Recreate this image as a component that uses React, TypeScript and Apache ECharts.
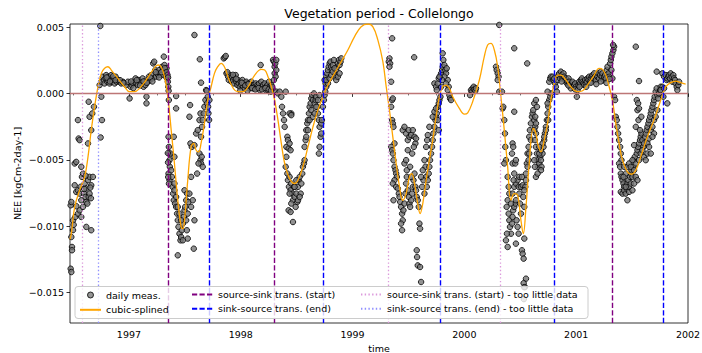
import React, { useEffect, useRef } from "react";
import * as echarts from "echarts";

const FONT = "DejaVu Sans";

const xRange = [1996.473, 2002.0];
const yRange = [-0.0173, 0.00523];
const yearTicks = [1997, 1998, 1999, 2000, 2001, 2002];
const quarterTicks = [1996.5, 1996.75, 1997.25, 1997.5, 1997.75, 1998.25, 1998.5, 1998.75, 1999.25, 1999.5, 1999.75, 2000.25, 2000.5, 2000.75, 2001.25, 2001.5, 2001.75];
const yTicks = [-0.015, -0.01, -0.005, 0, 0.005];

const sourceSinkStart = [1997.348, 1998.297, 2001.315];
const sinkSourceEnd = [1997.72, 1998.744, 1999.777, 2000.795, 2001.78];
const sourceSinkStartLittle = [1996.58, 1999.321, 2000.318];
const sinkSourceEndLittle = [1996.729];

const meas1996 = [
  [1996.485,-0.01082],[1996.491,-0.01157],[1996.491,-0.01182],[1996.479,-0.01321],[1996.485,-0.01346],[1996.479,-0.00843],[1996.485,-0.00818],[1996.5,-0.00956],[1996.52,-0.00931],[1996.515,-0.00692],[1996.529,-0.00742],[1996.544,-0.0073],[1996.559,-0.00755],[1996.515,-0.00528],[1996.529,-0.00516],[1996.544,-0.00906],[1996.559,-0.00881],[1996.574,-0.00805],[1996.574,-0.00931],[1996.589,-0.00855],[1996.598,-0.00755],[1996.61,-0.0078],[1996.619,-0.00818],[1996.628,-0.0083],[1996.64,-0.0078],[1996.648,-0.00755],[1996.574,-0.00553],[1996.58,-0.00629],[1996.589,-0.00604],[1996.604,-0.00679],[1996.568,-0.00704],[1996.619,-0.00717],[1996.634,-0.00654],[1996.648,-0.00629],[1996.663,-0.00692],[1996.678,-0.00629],[1996.619,-0.01006],[1996.663,-0.01031],[1996.544,-0.00201],[1996.55,-0.0034],[1996.559,-0.00352],[1996.634,-0.00377],[1996.64,-0.00063],[1996.648,-0.00176],[1996.663,-0.00277],[1996.672,-0.00151],[1996.687,-0.00101],[1996.753,-0.00025],[1996.759,-0.00201],[1996.747,-0.00332],[1996.744,0.00508],[1996.5,-0.0103],[1996.506,-0.0099],[1996.53,-0.0085],[1996.6,-0.0072],[1996.655,-0.0071],[1996.612,-0.0062],[1996.66,-0.0079],
  [1996.738,0.00063],[1996.753,0.00088],[1996.768,0.00126],[1996.776,0.00101],[1996.782,0.00075],[1996.791,0.00113],[1996.797,0.00138],[1996.806,0.00088],[1996.812,0.00101],[1996.818,0.00126],[1996.827,0.00075],[1996.836,0.00113],[1996.842,0.00138],[1996.851,0.00088],[1996.857,0.00101],[1996.866,0.00113],[1996.872,0.00075],[1996.881,0.00126],[1996.89,0.00088],[1996.901,0.00101],[1996.916,0.00088],[1996.931,0.00075],[1996.946,0.00088],[1996.961,0.00075],[1996.976,0.00063],[1996.991,0.00088],[1996.8,0.0012],[1996.83,0.0009],[1996.86,0.0013],[1996.88,0.001],[1996.92,0.001],[1996.95,0.0008]
];

const meas1997 = [
  [1997.006,-0.00038],[1997.015,0.0005],[1997.026,0.00063],[1997.035,0.00075],[1997.05,0.00088],[1997.059,0.00113],[1997.068,0.00075],[1997.08,0.00063],[1997.089,0.00101],[1997.098,0.00088],[1997.11,0.00075],[1997.122,0.00113],[1997.131,0.0005],[1997.14,0.00088],[1997.148,0.00063],[1997.157,-0.00025],[1997.157,-0.00075],[1997.169,0.00088],[1997.178,0.00126],[1997.187,0.00101],[1997.199,0.00138],[1997.208,0.00113],[1997.217,0.00226],[1997.226,0.00239],[1997.235,0.00176],[1997.244,0.00126],[1997.253,0.00151],[1997.262,0.00138],[1997.27,0.00176],[1997.279,0.00151],[1997.288,0.00138],[1997.297,0.00201],[1997.306,0.00176],[1997.312,0.00277],[1997.318,0.00214],[1997.324,0.00164],[1997.33,0.00126],[1997.336,0.00189],[1997.342,0.00113],[1997.348,0.00088],
  [1997.02,0.0009],[1997.04,0.0004],[1997.07,0.001],[1997.1,0.0006],[1997.13,0.0009],[1997.16,0.0008],[1997.19,0.0012],[1997.21,0.0009],[1997.24,0.0016],[1997.27,0.0012],[1997.29,0.0016],[1997.32,0.0019],[1997.335,0.0016],[1997.345,0.0014],[1997.35,0.0012],[1997.352,0.0005],[1997.355,0.0002],[1997.357,-0.0005]
];

const measDrop1997 = [
  [1997.354,-0.00327],[1997.357,-0.00403],[1997.36,-0.00453],[1997.363,-0.00503],[1997.366,-0.00553],[1997.354,-0.00604],[1997.363,-0.00654],[1997.372,-0.00453],[1997.378,-0.00579],[1997.384,-0.00629],[1997.39,-0.00704],[1997.395,-0.00755],[1997.401,-0.00805],[1997.407,-0.0073],[1997.413,-0.0083],[1997.422,-0.00855],[1997.431,-0.00906],[1997.437,-0.00956],[1997.443,-0.01006],[1997.452,-0.01057],[1997.461,-0.01107],[1997.467,-0.01082],[1997.473,-0.01031],[1997.482,-0.00981],[1997.491,-0.00931],[1997.497,-0.00881],[1997.503,-0.00855],[1997.512,-0.00956],[1997.518,-0.01031],[1997.526,-0.01094],[1997.482,-0.01107],[1997.467,-0.00956],[1997.452,-0.00906],[1997.437,-0.00855],[1997.422,-0.0078],[1997.407,-0.00679],[1997.437,-0.0122],[1997.497,-0.0073],[1997.512,-0.00805],[1997.526,-0.00906],[1997.532,-0.00818],[1997.52,-0.00755],[1997.541,-0.00755],[1997.556,-0.00855],[1997.571,-0.00805],[1997.586,-0.00956],[1997.556,-0.00629],[1997.58,-0.0117],
  [1997.422,-0.0002],[1997.422,-0.00113],[1997.401,-0.00327],[1997.407,-0.00478],[1997.547,-0.00088],[1997.541,-0.00176],[1997.55,-0.00377],[1997.562,-0.00403],[1997.586,-0.0039],[1997.601,-0.00302],[1997.616,-0.00277],[1997.631,-0.00201],[1997.64,-0.00151],[1997.645,-0.00327],[1997.654,-0.00252],[1997.66,-0.00201],[1997.669,-0.00151],[1997.675,-0.00101],[1997.684,-0.0005],[1997.69,0.00025],[1997.699,-0.00075],[1997.705,-0.00025],[1997.631,-0.00453],[1997.64,-0.00503],[1997.645,-0.00528],[1997.66,-0.00553],[1997.651,-0.00478],[1997.61,-0.00604],[1997.622,-0.00528],[1997.634,0.00257],[1997.645,0.00081],[1997.586,0.0044],[1997.696,0.0002],
  [1997.348,-0.0045],[1997.35,-0.0052],[1997.351,-0.0063],[1997.358,-0.0068],[1997.708,-0.001],[1997.711,-0.0015],[1997.717,-0.002],[1997.72,-0.0005]
];

const meas1998 = [
  [1997.848,0.00264],[1997.857,0.00272],[1997.866,0.00282],[1997.872,0.00151],[1997.887,0.00126],[1997.893,0.00101],[1997.902,0.00138],[1997.911,0.00113],[1997.917,0.00088],[1997.922,0.00126],[1997.931,0.00101],[1997.94,0.00075],[1997.946,0.00113],[1997.955,0.00138],[1997.961,0.00088],[1997.97,0.00063],[1997.976,0.00101],[1997.982,0.00075],[1997.991,0.0005],[1998.0,0.00088],[1998.006,0.00063],[1998.015,0.00101],[1998.021,0.0005],[1998.03,0.00075],[1998.036,0.00038],[1998.045,0.00063],[1998.05,0.00088],[1998.059,0.0005],[1998.065,0.00075],[1998.074,0.00038],[1998.08,0.00063],[1998.089,0.0005],[1998.095,0.00088],[1998.104,0.00063],[1998.11,0.00038],[1998.119,0.00063],[1998.125,0.0005],[1998.134,0.00075],[1998.14,0.00038],[1998.149,0.00063],[1998.155,0.0005],[1998.164,0.00075],[1998.17,0.00025],[1998.178,0.00214],[1998.184,0.00088],[1998.193,0.0005],[1998.199,0.00063],[1998.208,0.00038],[1998.214,0.00075],[1998.223,0.00025],[1998.229,0.0005],[1998.238,0.00063],[1998.244,0.00025],[1998.253,0.00088],[1998.259,0.0005],[1998.268,0.00013],[1998.274,0.00063],[1998.283,0.00038],[1998.289,0.00252],[1998.297,0.00239],[1998.303,0.00201],[1998.309,0.00226],[1998.318,0.00252],[1998.303,0.00151],[1998.312,0.00126],[1998.297,0.00101],[1998.318,0.00176],
  [1997.88,0.0016],[1997.93,0.0014],[1997.96,0.0011],[1998.01,0.0008],[1998.04,0.0006],[1998.07,0.0007],[1998.1,0.0004],[1998.13,0.0003],[1998.16,0.0004],[1998.19,0.0003],[1998.22,0.0004],[1998.25,0.0003],[1998.27,0.0002],[1998.28,0.0005],[1997.995,0.0002],[1998.06,0.0002]
];

const measDrop1998 = [
  [1998.318,0.00013],[1998.333,0.0],[1998.348,0.00013],[1998.363,-0.00025],[1998.369,-0.00101],[1998.378,-0.00151],[1998.387,-0.00201],[1998.393,-0.00252],[1998.402,0.00013],[1998.408,-0.00403],[1998.417,-0.00327],[1998.422,-0.00352],[1998.428,-0.00415],[1998.437,-0.00377],[1998.446,-0.00428],[1998.452,-0.00151],[1998.408,-0.00478],[1998.402,-0.00553],[1998.417,-0.00604],[1998.422,-0.00654],[1998.431,-0.00704],[1998.437,-0.00629],[1998.446,-0.0073],[1998.452,-0.00679],[1998.461,-0.00755],[1998.467,-0.00805],[1998.476,-0.00704],[1998.482,-0.0078],[1998.491,-0.00855],[1998.497,-0.00755],[1998.506,-0.00818],[1998.512,-0.00704],[1998.518,-0.00654],[1998.527,-0.00629],[1998.536,-0.00755],[1998.542,-0.00679],[1998.55,-0.00604],[1998.556,-0.00553],[1998.565,-0.00528],[1998.571,-0.00403],[1998.58,-0.00352],[1998.586,-0.00277],[1998.595,-0.00226],[1998.601,-0.00201],[1998.61,-0.00151],[1998.616,-0.00101],[1998.625,-0.00075],[1998.631,-0.00038],[1998.64,-0.00013],[1998.646,-0.0005],[1998.655,0.0],[1998.661,-0.00075],[1998.67,-0.0005],[1998.675,-0.00025],[1998.684,-0.00101],[1998.69,-0.00151],[1998.699,-0.00201],[1998.705,-0.00252],[1998.714,-0.00327],[1998.72,-0.00302],[1998.705,-0.00403],[1998.699,-0.00453],
  [1998.428,-0.00881],[1998.446,-0.00893],[1998.467,-0.00969],[1998.437,-0.00755],[1998.452,-0.0083],[1998.482,-0.00704],[1998.497,-0.00654],[1998.512,-0.00805],[1998.527,-0.0078],[1998.571,-0.00503],[1998.586,-0.00327],[1998.601,-0.00277],[1998.616,-0.00201],[1998.631,-0.00126],[1998.646,-0.00176],[1998.661,-0.00151],[1998.675,-0.00101],[1998.69,-0.0005],[1998.705,-0.00013],[1998.72,-0.00226],[1998.726,-0.00201],[1998.735,-0.00101],[1998.744,-0.0005],[1998.75,-0.00013],[1998.756,0.00013],[1998.765,0.0005],[1998.759,0.00075],[1998.437,-0.00151],[1998.452,-0.00164],
  [1998.75,0.00101],[1998.765,0.00126],[1998.774,0.00151],[1998.78,0.00176],[1998.786,0.00201],[1998.795,0.00226],[1998.803,0.00239],[1998.809,0.00201],[1998.815,0.00176],[1998.824,0.00214],[1998.833,0.00252],[1998.839,0.00151],[1998.848,0.00126],[1998.854,0.00176],[1998.863,0.00201],[1998.869,0.00226],[1998.878,0.00252],[1998.884,0.00214],[1998.893,0.00239],[1998.899,0.00264],[1998.78,0.00075],[1998.765,0.00101],[1998.795,0.00113],[1998.809,0.00138],[1998.824,0.00164],[1998.839,0.00189],[1998.854,0.00101],[1998.869,0.00126],[1998.884,0.00151]
];

const meas1999 = [
  [1999.33,0.00264],[1999.324,0.00239],[1999.336,0.00226],[1999.33,0.00201],[1999.345,0.00088],[1999.354,-0.0005],[1999.36,-0.00038],[1999.345,-0.00101],[1999.354,-0.00201],[1999.36,-0.00226],[1999.366,-0.00252],[1999.375,-0.00377],[1999.345,-0.00403],[1999.354,-0.00428],[1999.36,-0.00453],[1999.366,-0.00503],[1999.375,-0.00553],[1999.384,-0.00579],[1999.39,-0.00604],[1999.396,-0.00629],[1999.375,-0.00654],[1999.36,-0.00679],[1999.366,-0.00805],[1999.39,-0.00704],[1999.405,-0.00717],[1999.414,-0.00755],[1999.42,-0.0078],[1999.426,-0.00818],[1999.434,-0.00855],[1999.443,-0.00906],[1999.449,-0.00956],[1999.434,-0.00981],[1999.443,-0.01031],[1999.455,-0.00881],[1999.464,-0.0083],[1999.473,-0.00755],[1999.479,-0.00679],[1999.485,-0.00629],[1999.494,-0.0073],[1999.503,-0.0078],[1999.509,-0.0083],[1999.515,-0.00855],[1999.524,-0.00805],[1999.533,-0.00755],[1999.539,-0.00704],[1999.545,-0.00654],[1999.554,-0.00604],[1999.562,-0.00704],[1999.568,-0.0073],[1999.574,-0.0078],[1999.583,-0.00805],[1999.592,-0.00855],[1999.598,-0.00981],[1999.604,-0.01019],
  [1999.464,-0.00528],[1999.449,-0.00277],[1999.464,-0.00252],[1999.479,-0.00302],[1999.494,-0.00352],[1999.503,-0.00277],[1999.509,-0.00327],[1999.524,-0.00314],[1999.539,-0.00277],[1999.554,-0.00327],[1999.562,-0.00377],[1999.568,-0.0034],[1999.494,-0.00428],[1999.479,-0.00503],[1999.485,-0.00579],[1999.515,-0.00553],[1999.524,-0.00629],[1999.533,-0.00453],[1999.548,-0.00403],[1999.574,-0.01182],[1999.577,-0.01233],[1999.583,-0.01296],[1999.604,-0.01308],[1999.613,-0.01421],
  [1999.643,-0.00503],[1999.652,-0.00553],[1999.658,-0.00629],[1999.664,-0.00704],[1999.673,-0.00654],[1999.681,-0.00604],[1999.687,-0.00553],[1999.693,-0.00503],[1999.702,-0.00453],[1999.711,-0.00403],[1999.717,-0.00352],[1999.723,-0.00302],[1999.732,-0.00252],[1999.741,-0.00201],[1999.747,-0.00176],[1999.753,-0.00151],[1999.762,-0.00101],[1999.771,-0.00075],[1999.777,-0.0005],[1999.687,-0.00252],[1999.673,-0.00314],[1999.717,-0.00176],[1999.732,-0.00138],[1999.747,-0.00113],[1999.762,-0.00201],[1999.771,-0.00277],[1999.628,-0.00579],[1999.634,-0.00654],[1999.622,-0.00704],[1999.643,-0.00755],[1999.613,-0.00629],[1999.658,-0.00403],[1999.667,-0.00352],[1999.551,0.00272],[1999.354,0.00415],[1999.732,0.00075],[1999.747,0.0005],
  [1999.783,0.00126],[1999.792,0.00151],[1999.801,0.00176],[1999.806,0.00201],[1999.812,0.00252],[1999.821,0.00214],[1999.83,0.00176],[1999.836,0.00151],[1999.842,0.00189],[1999.851,0.00101],[1999.86,0.0005],[1999.866,-0.00013],[1999.872,-0.00038],[1999.881,-0.0005],[1999.851,0.00025],[1999.836,0.00075],[1999.821,0.00126],[1999.806,0.00302],[1999.801,0.00101],[1999.792,0.0005],[1999.786,-0.00025],[1999.753,0.00025],[1999.762,0.00075],[1999.771,0.00113],[1999.777,0.00126]
];

const meas2000 = [
  [2000.059,0.00025],[2000.068,0.00013],[2000.074,0.00038],[2000.083,0.0005],[2000.089,0.0003],[2000.098,0.0002],[2000.104,0.00038],[2000.051,-0.00013],
  [2000.283,0.00201],[2000.289,0.00176],[2000.298,0.00151],[2000.306,0.00126],[2000.298,0.00101],[2000.312,0.00013],[2000.336,0.00013],[2000.342,-0.00113],[2000.348,-0.00101],[2000.357,-0.00201],[2000.363,-0.00302],[2000.366,-0.00403],[2000.372,-0.00503],[2000.357,-0.00528],[2000.387,-0.00629],[2000.396,-0.00704],[2000.402,-0.00755],[2000.387,-0.00805],[2000.378,-0.00855],[2000.396,-0.00906],[2000.402,-0.00956],[2000.408,-0.01006],[2000.417,-0.01057],[2000.426,-0.00981],[2000.431,-0.00931],[2000.437,-0.00881],[2000.446,-0.00855],[2000.455,-0.0083],[2000.461,-0.00805],[2000.417,-0.0083],[2000.431,-0.00755],[2000.446,-0.00704],[2000.461,-0.00679],[2000.476,-0.00654],[2000.485,-0.00704],[2000.491,-0.00755],[2000.497,-0.0083],[2000.506,-0.00906],[2000.467,-0.00956],[2000.476,-0.01006],[2000.485,-0.01057],
  [2000.431,-0.00377],[2000.437,-0.00403],[2000.426,-0.00453],[2000.431,-0.00528],[2000.446,-0.00604],[2000.44,-0.00654],[2000.455,-0.00528],[2000.461,-0.00503],[2000.491,-0.00629],[2000.506,-0.00704],[2000.515,-0.00629],[2000.521,-0.00692],[2000.527,-0.0078],[2000.536,-0.00855],[2000.545,-0.00704],[2000.551,-0.00604],[2000.559,-0.00528],[2000.565,-0.00453],[2000.574,-0.00403],[2000.58,-0.00327],[2000.586,-0.00277],[2000.595,-0.00226],[2000.604,-0.00176],[2000.61,-0.00151],[2000.616,-0.00126],[2000.625,-0.00201],[2000.634,-0.00252],[2000.64,-0.00302],[2000.595,-0.00352],[2000.58,-0.00453],[2000.574,-0.00503],[2000.565,-0.00553],[2000.551,-0.00654],[2000.536,-0.0073],[2000.446,-0.00138],[2000.381,-0.01057],[2000.372,-0.01107],[2000.387,-0.01157],[2000.461,-0.01132],[2000.515,-0.01182],[2000.521,-0.01208],[2000.53,-0.01245],[2000.536,-0.01094],[2000.551,-0.01396],[2000.542,-0.01459],[2000.312,0.00516],[2000.446,0.0034],[2000.562,0.00226],[2000.53,-0.0143],[2000.535,-0.0146],[2000.532,-0.0155],
  [2000.625,-0.00075],[2000.64,-0.0005],[2000.649,-0.00101],[2000.634,-0.00176],[2000.64,-0.00226],[2000.625,-0.00277],[2000.631,-0.00352],[2000.64,-0.00403],[2000.649,-0.00453],[2000.655,-0.00503],[2000.661,-0.00553],[2000.67,-0.00528],[2000.679,-0.00478],[2000.685,-0.00503],[2000.69,-0.00553],[2000.699,-0.00453],[2000.708,-0.00403],[2000.714,-0.00352],[2000.72,-0.00302],[2000.729,-0.00252],[2000.738,-0.00201],[2000.744,-0.00151],[2000.75,-0.00101],[2000.759,-0.0005],[2000.768,-0.00025],[2000.774,0.0],[2000.744,0.00013],[2000.759,0.00088],[2000.768,0.00113],[2000.774,0.00126],[2000.625,-0.00503],[2000.631,-0.00553],[2000.64,-0.00629],[2000.67,-0.00453],[2000.685,-0.00428],[2000.699,-0.00377],[2000.714,-0.00327],[2000.729,-0.00277],[2000.685,-0.00579],[2000.655,-0.00604],[2000.744,-0.00075],[2000.75,-0.00201],[2000.67,-0.00403],
  [2000.789,0.00126],[2000.798,0.00101],[2000.804,0.00113],[2000.812,0.00075],[2000.818,0.0005],[2000.827,0.00013],[2000.833,0.00101],[2000.842,0.00138],[2000.848,0.00151],[2000.857,0.00113],[2000.863,0.00164],[2000.872,0.00138],[2000.878,0.00113],[2000.887,0.00151],[2000.893,0.00126],[2000.902,0.00101],[2000.908,0.00113],[2000.917,0.00075],[2000.923,0.00088],[2000.932,0.00113],[2000.937,0.00088],[2000.946,0.00063],[2000.952,0.00038],[2000.961,0.00075],[2000.967,0.00088],[2000.976,0.0005],[2000.982,0.00063],[2000.991,0.00075],[2000.997,0.0005],[2000.87,0.0009],[2000.93,0.0006],[2000.99,0.0003]
];

const meas2001 = [
  [2001.006,-0.00025],[2001.012,0.00025],[2001.021,0.00063],[2001.027,0.00088],[2001.036,0.00075],[2001.042,0.00101],[2001.051,0.00113],[2001.057,0.00088],[2001.065,0.00075],[2001.071,0.00063],[2001.08,0.00101],[2001.086,0.00075],[2001.095,0.00088],[2001.101,0.00113],[2001.11,0.00101],[2001.116,0.00126],[2001.125,0.00088],[2001.131,0.00113],[2001.14,0.00126],[2001.146,0.00138],[2001.155,0.00113],[2001.161,0.00151],[2001.17,0.00126],[2001.176,0.00101],[2001.185,0.00138],[2001.19,0.00126],[2001.199,0.00151],[2001.205,0.00113],[2001.214,0.00138],[2001.22,0.00164],[2001.229,0.00126],[2001.235,0.00151],[2001.244,0.00101],[2001.25,0.00126],[2001.259,0.00138],[2001.265,0.00113],[2001.274,0.00176],[2001.28,0.00201],[2001.289,0.00151],[2001.295,0.00126],[2001.304,0.00226],[2001.31,0.00252],[2001.315,0.00277],[2001.324,0.00302],[2001.333,0.00327],[2001.339,0.00352],[2001.33,0.00365],[2001.315,0.00176],[2001.324,0.00113],[2001.339,-0.00025],[2001.348,-0.0005],[2001.03,0.0005],[2001.09,0.0005],[2001.13,0.0008],[2001.18,0.0007],[2001.22,0.0009],[2001.27,0.0008],[2001.3,0.0011]
];

const measDrop2001 = [
  [2001.354,-0.00176],[2001.363,-0.00201],[2001.369,-0.00252],[2001.375,-0.00302],[2001.384,-0.00352],[2001.393,-0.00403],[2001.399,-0.00453],[2001.405,-0.00503],[2001.384,-0.00528],[2001.393,-0.00553],[2001.399,-0.00604],[2001.405,-0.00629],[2001.414,-0.00654],[2001.423,-0.00679],[2001.429,-0.00704],[2001.399,-0.00742],[2001.414,-0.00755],[2001.429,-0.0073],[2001.443,-0.00755],[2001.452,-0.00717],[2001.458,-0.00679],[2001.467,-0.00654],[2001.473,-0.00704],[2001.482,-0.00629],[2001.488,-0.00604],[2001.494,-0.00579],[2001.503,-0.00629],[2001.512,-0.00553],[2001.518,-0.00503],[2001.524,-0.00478],[2001.533,-0.00528],[2001.542,-0.00453],[2001.548,-0.00428],[2001.554,-0.00403],[2001.562,-0.00377],[2001.571,-0.00352],[2001.577,-0.00327],[2001.583,-0.00302],[2001.592,-0.00352],[2001.601,-0.00403],[2001.607,-0.00377],[2001.616,-0.00327],[2001.622,-0.00302],[2001.631,-0.00277],[2001.637,-0.00252],[2001.646,-0.00226],[2001.652,-0.00201],[2001.661,-0.00176],[2001.667,-0.00151],[2001.673,-0.00126],[2001.682,-0.00101],[2001.69,-0.00075],[2001.696,-0.0005],[2001.702,-0.00025],[2001.711,0.00013],[2001.72,0.00038],[2001.726,-0.00013],[2001.732,-0.00038],[2001.741,0.0],[2001.75,0.00025],[2001.756,0.0005],
  [2001.429,-0.00553],[2001.443,-0.00604],[2001.458,-0.00553],[2001.473,-0.00528],[2001.488,-0.00553],[2001.503,-0.00503],[2001.518,-0.00579],[2001.533,-0.00629],[2001.548,-0.00654],[2001.562,-0.00503],[2001.577,-0.00453],[2001.592,-0.00428],[2001.607,-0.00478],[2001.622,-0.00503],[2001.637,-0.00453],[2001.518,-0.0039],[2001.533,-0.00252],[2001.548,-0.00126],[2001.542,-0.0005],[2001.554,-0.00075],[2001.562,-0.00113],[2001.557,-0.00201],[2001.571,-0.00277],[2001.583,-0.00176],[2001.458,-0.00805],[2001.443,-0.00704],[2001.423,-0.00629],[2001.473,-0.00742],[2001.488,-0.00679],[2001.503,-0.0073],[2001.518,-0.00679],[2001.637,-0.00377],[2001.652,-0.0034],[2001.667,-0.00277],[2001.682,-0.00252],[2001.696,-0.00201],[2001.711,-0.00176],[2001.726,-0.00126],[2001.696,-0.00302],[2001.682,-0.00327],[2001.652,-0.00403],[2001.667,-0.00453],
  [2001.533,0.00352],[2001.562,0.00093],[2001.72,0.00164],[2001.771,0.00151],[2001.786,0.00126],[2001.801,0.00138],[2001.81,0.00101],[2001.815,0.00113],[2001.824,0.00126],[2001.83,0.00138],[2001.839,0.00113],[2001.845,0.00151],[2001.854,0.00126],[2001.86,0.00088],[2001.869,0.00138],[2001.875,0.00113],[2001.884,0.00101],[2001.89,0.00075],[2001.899,0.0005],[2001.905,0.00025],[2001.914,0.00063],[2001.92,0.00088],[2001.78,-0.00025],[2001.771,0.0005],[2001.756,0.00025],[2001.786,0.00038],[2001.815,-0.00075]
];

const spline = [
  [1996.473,-0.011],[1996.485,-0.01057],[1996.515,-0.00855],[1996.559,-0.0073],[1996.604,-0.00629],[1996.634,-0.00478],[1996.663,-0.00277],[1996.693,-0.00101],[1996.723,0.0005],[1996.753,0.00151],[1996.782,0.00189],[1996.812,0.00201],[1996.842,0.00176],[1996.901,0.00113],[1996.961,0.0005],[1997.006,0.00013],[1997.05,0.00013],[1997.095,0.00038],[1997.154,0.00101],[1997.214,0.00176],[1997.259,0.00214],[1997.288,0.00201],[1997.318,0.00126],[1997.348,-0.00025],[1997.378,-0.00277],[1997.407,-0.00528],[1997.437,-0.00805],[1997.467,-0.01006],[1997.482,-0.01019],[1997.497,-0.00956],[1997.526,-0.00654],[1997.556,-0.00403],[1997.58,-0.00377],[1997.601,-0.00428],[1997.622,-0.0044],[1997.645,-0.00377],[1997.675,-0.00226],[1997.705,-0.0005],[1997.735,0.0005],[1997.765,0.00151],[1997.794,0.00201],[1997.824,0.00226],[1997.857,0.00195],[1997.887,0.0012],[1997.917,0.00063],[1997.946,0.00025],[1997.976,0.00013],[1998.021,0.00013],[1998.065,0.0005],[1998.125,0.00138],[1998.184,0.00181],[1998.214,0.00176],[1998.244,0.00126],[1998.274,0.0005],[1998.303,-0.0005],[1998.333,-0.00201],[1998.363,-0.00377],[1998.393,-0.00528],[1998.437,-0.00642],[1998.482,-0.00679],[1998.512,-0.00654],[1998.556,-0.00553],[1998.601,-0.00403],[1998.646,-0.00252],[1998.69,-0.00126],[1998.735,-0.00025],[1998.78,0.00063],[1998.839,0.00151],[1998.899,0.00239],[1998.958,0.00327],[1999.018,0.00428],[1999.077,0.00503],[1999.137,0.00523],[1999.181,0.00503],[1999.226,0.00403],[1999.271,0.0024],[1999.301,0.0005],[1999.33,-0.00126],[1999.36,-0.00327],[1999.39,-0.00528],[1999.42,-0.00704],[1999.449,-0.00805],[1999.479,-0.00755],[1999.509,-0.00629],[1999.53,-0.00604],[1999.554,-0.00679],[1999.583,-0.0083],[1999.604,-0.00906],[1999.628,-0.0083],[1999.658,-0.00654],[1999.687,-0.00503],[1999.717,-0.00352],[1999.747,-0.00176],[1999.777,-0.00025],[1999.806,0.0005],[1999.836,0.00063],[1999.866,0.00038],[1999.896,-0.00025],[1999.955,-0.00113],[2000.0,-0.00156],[2000.03,-0.00146],[2000.074,-0.00063],[2000.134,0.00101],[2000.178,0.00277],[2000.208,0.00365],[2000.238,0.00377],[2000.268,0.00327],[2000.298,0.00201],[2000.327,-0.00025],[2000.357,-0.00277],[2000.387,-0.00553],[2000.417,-0.00805],[2000.446,-0.00755],[2000.476,-0.00767],[2000.506,-0.00956],[2000.527,-0.01057],[2000.551,-0.00855],[2000.58,-0.00528],[2000.616,-0.00264],[2000.64,-0.00302],[2000.655,-0.00377],[2000.685,-0.0044],[2000.714,-0.00352],[2000.744,-0.00226],[2000.774,-0.0005],[2000.804,0.00075],[2000.833,0.00138],[2000.863,0.00138],[2000.908,0.00101],[2000.952,0.0005],[2001.012,0.00013],[2001.057,0.0002],[2001.101,0.00063],[2001.161,0.00138],[2001.205,0.00189],[2001.235,0.00181],[2001.265,0.00138],[2001.295,0.0005],[2001.324,-0.0005],[2001.354,-0.00226],[2001.384,-0.00377],[2001.414,-0.00503],[2001.458,-0.00591],[2001.494,-0.00609],[2001.533,-0.00579],[2001.577,-0.00478],[2001.637,-0.00327],[2001.696,-0.00201],[2001.741,-0.00088],[2001.771,-0.00013],[2001.801,0.0005],[2001.845,0.00081],[2001.89,0.00093],[2001.935,0.00081],[2001.979,0.0007]
];

const names = {
  meas: "daily meas.",
  spline: "cubic-splined",
  ssStart: "source-sink trans. (start)",
  ssEnd: "sink-source trans. (end)",
  ssStartLittle: "source-sink trans. (start) - too little data",
  ssEndLittle: "sink-source trans. (end) - too little data",
};

const fmtY = (v: number) => (v < -1e-12 ? "\u2212" : "") + Math.abs(v).toFixed(3);

function vline(name: string, xs: number[], color: string, type: number[], width: number) {
  const ls = { color, width, type };
  return {
    name,
    type: "line",
    data: [],
    symbol: "none",
    showSymbol: false,
    lineStyle: ls,
    itemStyle: { color, opacity: 0 },
    z: 4,
    markLine: {
      silent: true,
      symbol: ["none", "none"],
      label: { show: false },
      emphasis: { disabled: true },
      lineStyle: ls,
      data: xs.map((x) => ({ xAxis: x })),
    },
  };
}

export default function App() {
  const ref = useRef<HTMLDivElement>(null);
  useEffect(() => {
    if (!ref.current) return;
    const chart = echarts.init(ref.current, undefined, { renderer: "svg" });
    const allMeas = [...meas1996, ...meas1997, ...measDrop1997, ...meas1998, ...measDrop1998, ...meas1999, ...meas2000, ...meas2001, ...measDrop2001];
    const textStyle = { fontFamily: FONT, fontSize: 9.5, color: "#000" };
    const legendBase = {
      orient: "vertical",
      top: 289.5,
      padding: 0,
      itemWidth: 21,
      itemHeight: 10,
      itemGap: 4.3,
      textStyle,
      z: 10,
      selectedMode: false,
    };
    const noSym = { opacity: 0 };
    const gridRect = { left: 70, right: 14, top: 24, bottom: 30, outerBoundsMode: "none", containLabel: false };
    chart.setOption({
      animation: false,
      backgroundColor: "#fff",
      title: {
        text: "Vegetation period - Collelongo",
        left: 379,
        top: 7,
        textAlign: "center",
        textVerticalAlign: "top",
        padding: 0,
        textStyle: { fontFamily: FONT, fontSize: 12.5, fontWeight: "normal", color: "#000" },
      },
      grid: [
        { ...gridRect, show: true, borderColor: "#000", borderWidth: 0.8, backgroundColor: "transparent" },
        { ...gridRect, show: false },
      ],
      xAxis: [
        {
          type: "value",
          gridIndex: 0,
          min: xRange[0],
          max: xRange[1],
          name: "time",
          nameLocation: "middle",
          nameGap: 20,
          nameMoveOverlap: false,
          nameTextStyle: textStyle,
          axisLine: { show: false },
          splitLine: { show: false },
          axisTick: { show: true, length: 3.5, customValues: yearTicks, lineStyle: { color: "#000", width: 0.8 } },
          axisLabel: { show: true, customValues: yearTicks, margin: 6, formatter: (v: number) => String(Math.round(v)), ...textStyle },
        },
        {
          type: "value",
          gridIndex: 1,
          min: xRange[0],
          max: xRange[1],
          position: "bottom",
          axisLine: { show: false },
          splitLine: { show: false },
          axisLabel: { show: false },
          axisTick: { show: true, length: 2, customValues: quarterTicks, lineStyle: { color: "#000", width: 0.6 } },
        },
      ],
      yAxis: [
        {
          type: "value",
          gridIndex: 0,
          min: yRange[0],
          max: yRange[1],
          name: "NEE [kgCm-2day-1]",
          nameLocation: "middle",
          nameGap: 48,
          nameMoveOverlap: false,
          nameTextStyle: textStyle,
          axisLine: { show: false },
          splitLine: { show: false },
          axisTick: { show: true, length: 3.5, customValues: yTicks, lineStyle: { color: "#000", width: 0.8 } },
          axisLabel: { show: true, customValues: yTicks, margin: 6, formatter: fmtY, ...textStyle },
        },
        {
          type: "value",
          gridIndex: 1,
          min: yRange[0],
          max: yRange[1],
          show: false,
        },
      ],
      legend: [
        { ...legendBase, left: 79, data: [
          { name: names.meas, icon: "path://M0,0M21,10M7.5,5A3,3,0,1,0,13.5,5A3,3,0,1,0,7.5,5Z", itemStyle: { color: "#7a7a7a", borderColor: "#000", borderWidth: 1 } },
          { name: names.spline, itemStyle: noSym },
        ] },
        { ...legendBase, left: 191, data: [{ name: names.ssStart, itemStyle: noSym }, { name: names.ssEnd, itemStyle: noSym }] },
        { ...legendBase, left: 360, data: [{ name: names.ssStartLittle, itemStyle: noSym }, { name: names.ssEndLittle, itemStyle: noSym }] },
      ],
      graphic: [
        {
          type: "rect",
          z: 8,
          shape: { x: 75, y: 286.5, width: 513, height: 32, r: 3 },
          style: { fill: "rgba(255,255,255,0.8)", stroke: "#cccccc", lineWidth: 1 },
        },
      ],
      series: [
        {
          name: "zero",
          type: "line",
          data: [],
          z: 1,
          markLine: {
            silent: true,
            symbol: ["none", "none"],
            label: { show: false },
            emphasis: { disabled: true },
            lineStyle: { color: "#bd7676", width: 1.3, type: "solid" },
            data: [{ yAxis: 0 }],
          },
        },
        {
          name: names.meas,
          type: "scatter",
          data: allMeas,
          symbol: "circle",
          symbolSize: 5.5,
          itemStyle: { color: "#777777", borderColor: "#000", borderWidth: 1 },
          z: 2,
          emphasis: { disabled: true },
        },
        {
          name: names.spline,
          type: "line",
          data: spline,
          smooth: 0.4,
          showSymbol: false,
          symbol: "none",
          lineStyle: { color: "#ffa500", width: 1.3 },
          itemStyle: { color: "#ffa500", opacity: 0 },
          z: 3,
        },
        vline(names.ssStart, sourceSinkStart, "#800080", [5.2, 2.3], 1.4),
        vline(names.ssEnd, sinkSourceEnd, "#0000ff", [5.2, 2.3], 1.4),
        vline(names.ssStartLittle, sourceSinkStartLittle, "#dc9adc", [1.4, 2.3], 1.3),
        vline(names.ssEndLittle, sinkSourceEndLittle, "#9090ff", [1.4, 2.3], 1.3),
      ],
    });
    return () => chart.dispose();
  }, []);
  return <div ref={ref} style={{ position: "fixed", left: 0, top: 0, width: 702, height: 353, background: "#fff" }} />;
}
